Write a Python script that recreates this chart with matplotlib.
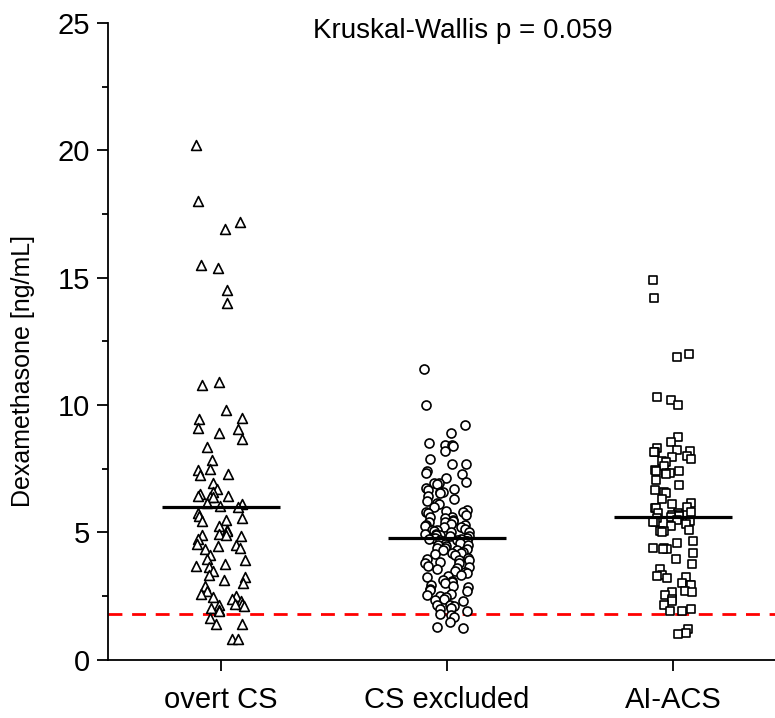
import numpy as np
import matplotlib.pyplot as plt
from matplotlib.ticker import MultipleLocator

# values (ng/mL)
groups = ["overt CS", "CS excluded", "AI-ACS"]

overt_cs = [20.2, 18.0, 17.2, 16.9, 15.5, 15.4, 14.5, 14.0, 10.9, 10.8,
            9.8, 9.5, 9.45, 9.1, 9.05, 8.9, 8.65, 8.35, 7.85, 7.5,
            7.45, 7.3, 7.25, 6.95, 6.7, 6.6, 6.5, 6.45, 6.45, 6.4,
            6.4, 6.15, 6.1, 6.05, 6.0, 5.75, 5.65, 5.55, 5.5, 5.45,
            5.25, 5.1, 5.05, 4.95, 4.9, 4.9, 4.85, 4.75, 4.55, 4.5,
            4.45, 4.4, 4.35, 4.1, 3.95, 3.9, 3.75, 3.7, 3.65, 3.5,
            3.35, 3.25, 3.15, 3.0, 2.9, 2.7, 2.6, 2.5, 2.45, 2.4,
            2.3, 2.2, 2.2, 2.15, 2.1, 2.05, 1.95, 1.9, 1.65, 1.4,
            1.4, 0.8, 0.8]

cs_excluded = [11.4, 10.0, 9.2, 8.9, 8.5, 8.45, 8.45, 8.4, 8.2, 7.9,
               7.7, 7.7, 7.4, 7.35, 7.3, 7.15, 7.0, 6.95, 6.95, 6.9,
               6.75, 6.7, 6.65, 6.6, 6.6, 6.55, 6.45, 6.3, 6.25, 6.15,
               6.1, 6.0, 5.9, 5.85, 5.8, 5.8, 5.75, 5.7, 5.6, 5.6,
               5.55, 5.5, 5.45, 5.4, 5.4, 5.35, 5.3, 5.3, 5.25, 5.2,
               5.2, 5.15, 5.1, 5.1, 5.05, 5.0, 5.0, 4.95, 4.95, 4.9,
               4.9, 4.85, 4.85, 4.8, 4.8, 4.8, 4.75, 4.75, 4.7, 4.7,
               4.65, 4.65, 4.6, 4.55, 4.5, 4.5, 4.45, 4.4, 4.4, 4.35,
               4.3, 4.3, 4.25, 4.2, 4.2, 4.15, 4.1, 4.0, 3.95, 3.9,
               3.9, 3.85, 3.8, 3.8, 3.7, 3.65, 3.6, 3.55, 3.5, 3.45,
               3.4, 3.35, 3.3, 3.25, 3.15, 3.1, 3.05, 3.0, 2.95, 2.9,
               2.85, 2.8, 2.75, 2.7, 2.6, 2.55, 2.5, 2.45, 2.4, 2.35,
               2.3, 2.15, 2.15, 2.1, 2.05, 2.0, 1.9, 1.8, 1.75, 1.7,
               1.5, 1.3, 1.25]

ai_acs = [14.9, 14.2, 12.0, 11.9, 10.3, 10.2, 10.0, 8.75, 8.55, 8.3,
          8.25, 8.2, 8.15, 8.15, 8.0, 7.95, 7.9, 7.8, 7.75, 7.6,
          7.45, 7.4, 7.4, 7.35, 7.35, 7.3, 7.05, 6.85, 6.65, 6.6,
          6.55, 6.3, 6.15, 6.1, 6.0, 5.95, 5.95, 5.8, 5.75, 5.75,
          5.7, 5.7, 5.65, 5.6, 5.55, 5.5, 5.45, 5.4, 5.4, 5.35,
          5.25, 5.1, 5.05, 5.05, 5.0, 4.65, 4.6, 4.4, 4.4, 4.35,
          4.35, 4.2, 3.95, 3.75, 3.55, 3.35, 3.3, 3.25, 3.2, 3.0,
          2.95, 2.95, 2.7, 2.65, 2.65, 2.55, 2.4, 2.3, 2.15, 2.0,
          1.9, 1.9, 1.2, 1.05, 1.0]

medians = [6.0, 4.8, 5.6]
cutoff = 1.8
test_label = "Kruskal-Wallis p = 0.059"


def spread(n, width):
    # deterministic scatter (quadratic Weyl sequence) so points don't stack
    k = np.arange(n)
    frac = (k * 0.618034 + k * k * 0.414214) % 1.0
    return (frac - 0.5) * 2 * width


plt.rcParams['font.family'] = ['Liberation Sans', 'DejaVu Sans']

fig = plt.figure(figsize=(7.75, 7.18), dpi=100)
ax = fig.add_axes([0.139, 0.081, 0.861, 0.887])

data = [overt_cs, cs_excluded, ai_acs]
markers = ["^", "o", "s"]
sizes = [50, 42, 34]
widths = [0.11, 0.10, 0.09]

for i, vals in enumerate(data):
    vals = np.array(vals)
    x = i + spread(len(vals), widths[i])
    ax.scatter(x, vals, marker=markers[i], s=sizes[i], facecolors="white",
               edgecolors="black", linewidths=1.2, zorder=3)
    ax.plot([i - 0.26, i + 0.26], [medians[i], medians[i]], color="black",
            lw=2.3, zorder=4, solid_capstyle="butt")

ax.axhline(cutoff, color="red", lw=2, linestyle=(0, (5, 3.5)), zorder=2)

ax.text(1.07, 24.7, test_label, ha="center", va="center", fontsize=20)

ax.set_xlim(-0.5, 2.45)
ax.set_ylim(0, 25)
ax.set_xticks(range(3))
ax.set_xticklabels(groups, fontsize=21)
ax.yaxis.set_major_locator(MultipleLocator(5))
ax.yaxis.set_minor_locator(MultipleLocator(2.5))
ax.tick_params(axis="y", which="major", length=8, width=1.3, labelsize=21, pad=5)
ax.tick_params(axis="y", which="minor", length=4.5, width=1.3)
ax.tick_params(axis="x", which="major", length=8, width=1.3, pad=11)
ax.set_ylabel("Dexamethasone [ng/mL]", fontsize=18, labelpad=16)
ax.yaxis.label.set_y(0.454)

for side in ["top", "right"]:
    ax.spines[side].set_visible(False)
for side in ["left", "bottom"]:
    ax.spines[side].set_linewidth(1.3)

fig.savefig("out.png", dpi=100)
